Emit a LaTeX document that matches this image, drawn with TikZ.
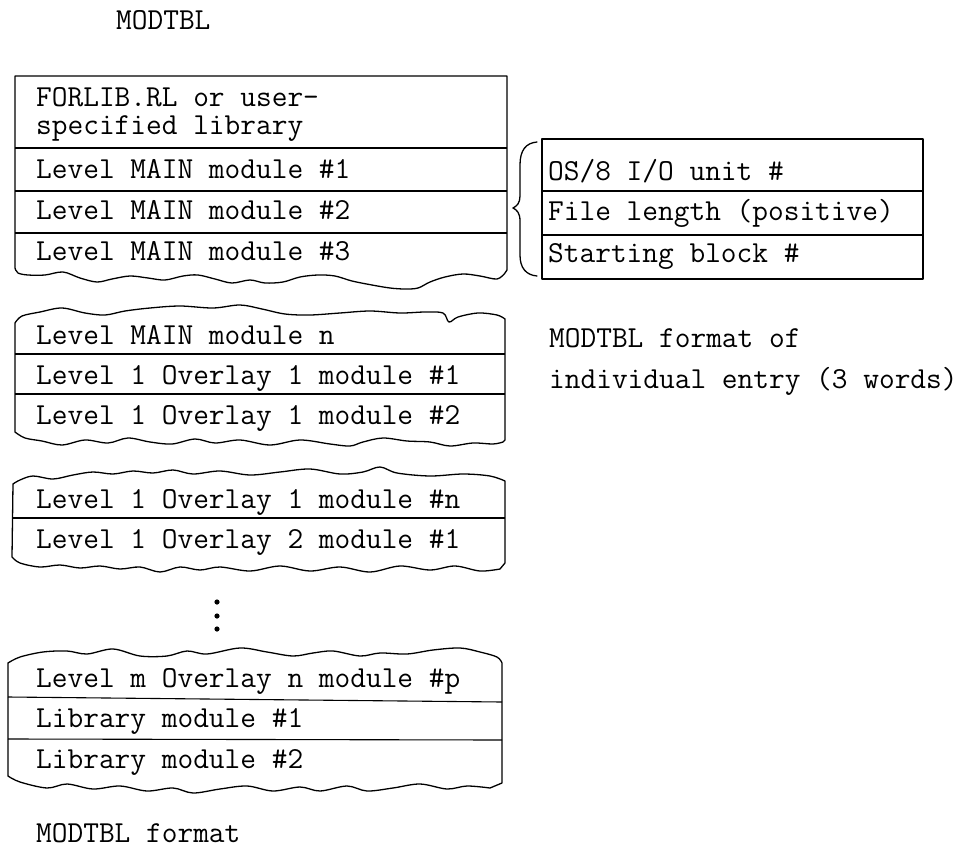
\documentclass[tikz,border=0pt]{standalone}
\begin{document}
\begin{tikzpicture}[x=1pt,y=-1pt,
  txt/.style={anchor=base west, inner sep=0pt, font=\ttfamily\fontsize{30.5}{28}\selectfont},
  edge/.style={line width=1.3pt, line join=round, line cap=round},
  rule/.style={line width=1.1pt},
  dot/.style={fill=black, draw=none}]
\useasboundingbox[fill=white] (0,0) rectangle (962,849);

% title
\node[txt] (title) at (116,29) {MODTBL};

% ---- block 1: library and first MAIN modules
\draw[edge] (15,268) -- (15,76) -- (507,76) -- (507,270)
  -- plot[smooth, tension=0.55] coordinates {(505,273) (497,279) (480,276) (463,274) (445,277)
     (430,282) (418,288) (405,289) (390,288) (372,285) (352,281) (335,276) (318,275)
     (300,277) (283,282) (265,283) (250,280) (232,283) (215,279) (198,275) (183,276)
     (165,280) (148,278) (130,276) (112,279) (97,282) (80,278) (63,272) (45,275)
     (28,275) (18,273) (15,268)};
\draw[rule] (15,148) -- (507,148);
\draw[rule] (15,191) -- (507,191);
\draw[rule] (15,233) -- (507,233);
% two-line entry: the base anchor sits on the last line
\node[txt, align=left] (forlib) at (36,134) {FORLIB.RL or user-\\specified library};
\node[txt] (main1) at (36,178) {Level MAIN module \#1};
\node[txt] (main2) at (36,219) {Level MAIN module \#2};
\node[txt] (main3) at (36,260) {Level MAIN module \#3};

% ---- block 2
\draw[edge] plot[smooth, tension=0.55] coordinates {(15,323) (22,316) (40,312) (62,308) (85,313)
     (105,315) (125,311) (150,308) (180,306) (213,308) (240,305) (262,309) (285,314)
     (310,315) (340,313) (370,311) (400,313) (425,312) (443,313) (449,322) (458,317)
     (478,313) (497,315) (505,319)}
  -- (505,440)
  -- plot[smooth, tension=0.55] coordinates {(503,442) (493,444) (473,443) (450,446) (430,442)
     (407,441) (383,438) (363,442) (350,446) (330,444) (300,440) (270,445) (240,440)
     (215,443) (195,439) (172,444) (150,442) (128,438) (108,443) (85,440) (62,445)
     (42,441) (25,438) (15,432)}
  -- cycle;
\draw[rule] (15,354) -- (505,354);
\draw[rule] (15,394) -- (505,394);
\node[txt] (mainn) at (36,344) {Level MAIN module n};
\node[txt] (ov11) at (36,384) {Level 1 Overlay 1 module \#1};
\node[txt] (ov12) at (36,424) {Level 1 Overlay 1 module \#2};

% ---- block 3
\draw[edge] plot[smooth, tension=0.55] coordinates {(13,484) (20,480) (33,476) (53,479) (73,475)
     (93,472) (113,474) (133,471) (153,473) (173,470) (193,474) (220,471) (250,475)
     (280,472) (310,469) (340,474) (363,472) (380,467) (397,473) (430,476) (463,474)
     (490,476) (505,481)}
  -- (505,563)
  -- plot[smooth, tension=0.55] coordinates {(500,569) (480,571) (455,566) (430,570) (400,566)
     (370,572) (340,567) (310,571) (280,566) (250,571) (220,567) (200,570) (180,567)
     (160,572) (140,567) (120,569) (100,566) (80,568) (60,565) (40,567) (20,563) (12,557)}
  -- cycle;
\draw[rule] (13,518) -- (505,518);
\node[txt] (ov1n) at (36,508) {Level 1 Overlay 1 module \#n};
\node[txt] (ov21) at (36,548) {Level 1 Overlay 2 module \#1};

% ellipsis between blocks
\fill[dot] (217,602) circle (2.6);
\fill[dot] (217,616) circle (2.6);
\fill[dot] (217,629) circle (2.6);

% ---- block 4
\draw[edge] plot[smooth, tension=0.55] coordinates {(8,663) (20,657) (43,652) (67,651) (87,654)
     (113,649) (140,656) (167,656) (187,651) (207,654) (240,648) (267,652) (293,656)
     (313,653) (333,651) (360,656) (380,653) (407,654) (433,650) (460,648) (480,652)
     (497,657) (502,663)}
  -- (502,783)
  -- plot[smooth, tension=0.55] coordinates {(490,788) (467,786) (447,789) (420,784) (393,788)
     (367,791) (347,786) (320,791) (300,787) (273,791) (247,786) (220,789) (193,793)
     (173,788) (147,791) (120,786) (93,789) (67,784) (47,788) (20,782) (8,776)}
  -- cycle;
\draw[rule] (8,697) -- (502,702);
\draw[rule] (8,739) -- (502,740);
\node[txt] (ovmn) at (36,687) {Level m Overlay n module \#p};
\node[txt] (lib1) at (36,727) {Library module \#1};
\node[txt] (lib2) at (36,768) {Library module \#2};

\node[txt] (caption) at (36,842) {MODTBL format};

% ---- single entry layout
\draw[edge] (542,139) rectangle (923,279);
\draw[rule] (542,191) -- (923,191);
\draw[rule] (542,235) -- (923,235);
\node[txt] (unit) at (548,180) {OS/8 I/O unit \#};
\node[txt] (flen) at (548,220) {File length (positive)};
\node[txt] (sblk) at (548,262) {Starting block \#};

\draw[edge] (537,142) .. controls (526,143) and (520,150) .. (520,165) -- (520,196)
  .. controls (520,203) and (517,206) .. (513,208)
  .. controls (517,210) and (520,213) .. (520,221) -- (520,255)
  .. controls (520,268) and (526,275) .. (537,276);

\node[txt] (entA) at (549,347) {MODTBL format of};
\node[txt] (entB) at (549,388) {individual entry (3 words)};
\end{tikzpicture}
\end{document}
